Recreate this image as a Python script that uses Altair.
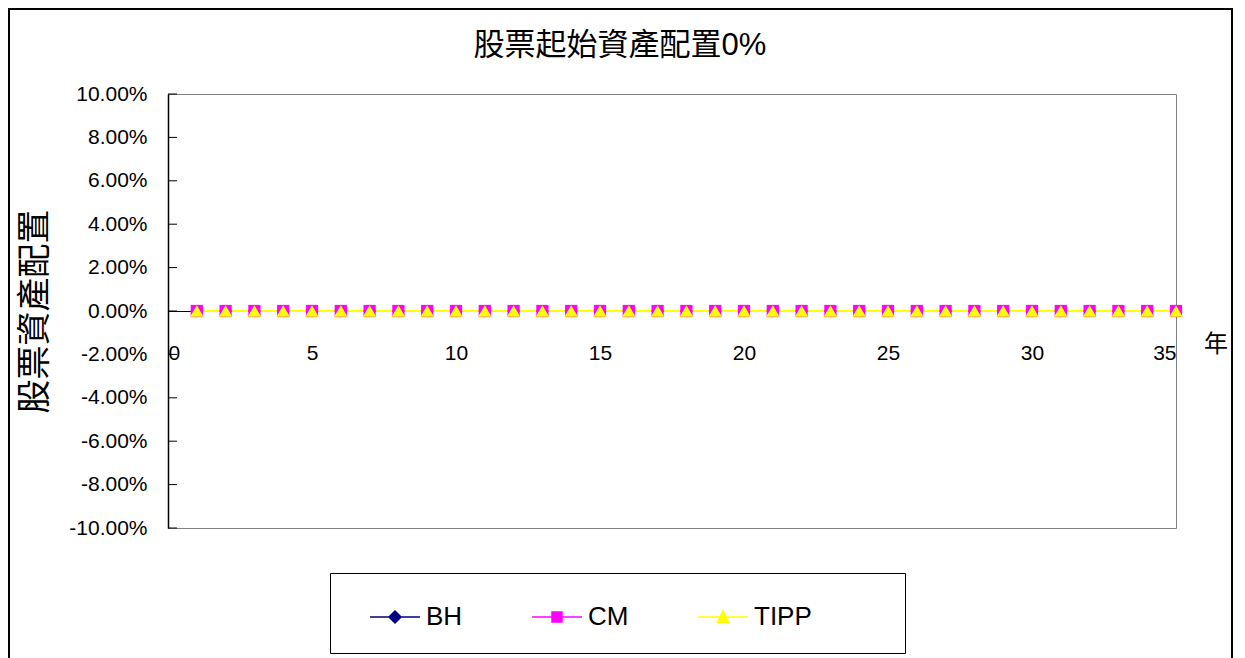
import altair as alt
import pandas as pd

# ---- data ----
years = [1, 2, 3, 4, 5, 6, 7, 8, 9, 10, 11, 12, 13, 14, 15, 16, 17, 18,
         19, 20, 21, 22, 23, 24, 25, 26, 27, 28, 29, 30, 31, 32, 33, 34, 35]
bh = [0.0, 0.0, 0.0, 0.0, 0.0, 0.0, 0.0, 0.0, 0.0, 0.0, 0.0, 0.0,
      0.0, 0.0, 0.0, 0.0, 0.0, 0.0, 0.0, 0.0, 0.0, 0.0, 0.0, 0.0,
      0.0, 0.0, 0.0, 0.0, 0.0, 0.0, 0.0, 0.0, 0.0, 0.0, 0.0]
cm = [0.0, 0.0, 0.0, 0.0, 0.0, 0.0, 0.0, 0.0, 0.0, 0.0, 0.0, 0.0,
      0.0, 0.0, 0.0, 0.0, 0.0, 0.0, 0.0, 0.0, 0.0, 0.0, 0.0, 0.0,
      0.0, 0.0, 0.0, 0.0, 0.0, 0.0, 0.0, 0.0, 0.0, 0.0, 0.0]
tipp = [0.0, 0.0, 0.0, 0.0, 0.0, 0.0, 0.0, 0.0, 0.0, 0.0, 0.0, 0.0,
        0.0, 0.0, 0.0, 0.0, 0.0, 0.0, 0.0, 0.0, 0.0, 0.0, 0.0, 0.0,
        0.0, 0.0, 0.0, 0.0, 0.0, 0.0, 0.0, 0.0, 0.0, 0.0, 0.0]
series_names = ["BH", "CM", "TIPP"]
series_colors = ["#000080", "#FF00FF", "#FFFF00"]
y_ticks = [-0.10, -0.08, -0.06, -0.04, -0.02, 0.0, 0.02, 0.04, 0.06, 0.08, 0.10]
x_ticks = [0, 5, 10, 15, 20, 25, 30, 35]
title_text = "股票起始資產配置0%"
y_title = "股票資產配置"
x_unit = "年"

LATIN = "Liberation Sans, Arial, Noto Sans CJK TC, sans-serif"
CJK = "Liberation Sans, Noto Sans CJK TC, sans-serif"

W, H = 1008, 434

rows = []
for name, vals in zip(series_names, [bh, cm, tipp]):
    for yr, v in zip(years, vals):
        rows.append({"year": yr, "value": v, "series": name})
df = pd.DataFrame(rows)

x_scale = alt.Scale(domain=[0, 35], nice=False, zero=False)
y_scale = alt.Scale(domain=[-0.1, 0.1], nice=False, zero=False)
color_scale = alt.Scale(domain=series_names, range=series_colors)
legend_shapes = [
    "M-1.25,0H1.25M0,-0.3L0.3,0L0,0.3L-0.3,0Z",
    "M-1.25,0H1.25M-0.25,-0.25H0.25V0.25H-0.25Z",
    "M-1.25,0H1.25M0,-0.31L0.28,0.28H-0.28Z",
]
shape_scale = alt.Scale(domain=series_names, range=legend_shapes)

x_axis = alt.Axis(
    values=x_ticks, title=None, grid=False, ticks=False, offset=-H / 2,
    domainColor="#000000", domainWidth=1, labelFontSize=21, labelFont=LATIN,
    labelColor="#000000", labelPadding=31, labelAngle=0,
)
y_axis = alt.Axis(
    values=y_ticks, title=y_title, grid=False, ticks=False,
    domainColor="#000000", domainWidth=1.5, labelFontSize=21, labelFont=LATIN,
    labelColor="#000000", labelPadding=21,
    labelExpr="(datum.value < -0.0000001 ? '-' : '') + format(abs(datum.value), '.2%')",
    titleFont=CJK, titleFontSize=34, titleFontWeight="normal", titleColor="#000000",
    titlePadding=16,
)

base = alt.Chart(df)

legend_kw = dict(
    orient="none", legendX=162, legendY=479, direction="horizontal",
    title="\u00a0", titleOrient="right", titlePadding=70, titleFontSize=8,
    padding=23, strokeColor="#000000", fillColor="#FFFFFF",
    symbolSize=1600, symbolStrokeWidth=1.5, symbolOffset=21, labelOffset=10,
    labelFontSize=26, labelFont=LATIN, labelColor="#000000", columnPadding=52,
)
legend_layer = (
    alt.Chart(pd.DataFrame({"series": series_names}))
    .transform_filter("false")
    .mark_point(filled=True, opacity=1)
    .encode(
        fill=alt.Fill("series:N", scale=color_scale, legend=alt.Legend(**legend_kw)),
        stroke=alt.Stroke("series:N", scale=color_scale, legend=alt.Legend(**legend_kw)),
        shape=alt.Shape("series:N", scale=shape_scale, legend=alt.Legend(**legend_kw)),
    )
)

series_layers = []
first = True
for name, col in zip(series_names, series_colors):
    if first:
        xe = alt.X("year:Q", scale=x_scale, axis=x_axis)
        ye = alt.Y("value:Q", scale=y_scale, axis=y_axis)
    else:
        xe = alt.X("year:Q", scale=x_scale)
        ye = alt.Y("value:Q", scale=y_scale)
    first = False
    series_layers.append(
        base.transform_filter(alt.datum.series == name)
        .mark_line(strokeWidth=2, color=col)
        .encode(x=xe, y=ye, order=alt.Order("year:Q"))
    )

marker_specs = [("BH", "diamond", 160), ("CM", "square", 150), ("TIPP", "triangle-up", 180)]
for (name, shp, sz), col in zip(marker_specs, series_colors):
    series_layers.append(
        base.transform_filter(alt.datum.series == name)
        .mark_point(filled=True, shape=shp, size=sz, color=col, opacity=1)
        .encode(x=alt.X("year:Q", scale=x_scale), y=alt.Y("value:Q", scale=y_scale))
    )

tick_marks = alt.Chart(pd.DataFrame({"v": y_ticks})).mark_rule(
    color="#000000", strokeWidth=1
).encode(y=alt.Y("v:Q", scale=y_scale), x=alt.value(0), x2=alt.value(9))

unit_label = alt.Chart(pd.DataFrame({"t": [x_unit]})).mark_text(
    font=CJK, fontSize=24, color="#000000", align="center", baseline="middle"
).encode(text="t:N", x=alt.value(1048), y=alt.value(251))

frame = alt.Chart(pd.DataFrame({"k": [1]})).mark_rect(
    fill="transparent", stroke="#000000", strokeWidth=2
).encode(x=alt.value(-159), x2=alt.value(1064), y=alt.value(-85), y2=alt.value(620))

chart = alt.layer(
    legend_layer, frame, *series_layers, tick_marks, unit_label
).properties(
    width=W, height=H,
    title=alt.TitleParams(title_text, fontSize=31, font=CJK, fontWeight="normal",
                          color="#000000", anchor="middle", dx=-52, offset=-54),
    padding={"left": 160, "top": 86, "right": 61, "bottom": 130},
    autosize=alt.AutoSizeParams(type="none"),
).configure(
    background="#FFFFFF",
    view=alt.ViewConfig(stroke="#808080", strokeWidth=1),
)

chart.save("out.html", embed_options={"renderer": "svg", "actions": False})
